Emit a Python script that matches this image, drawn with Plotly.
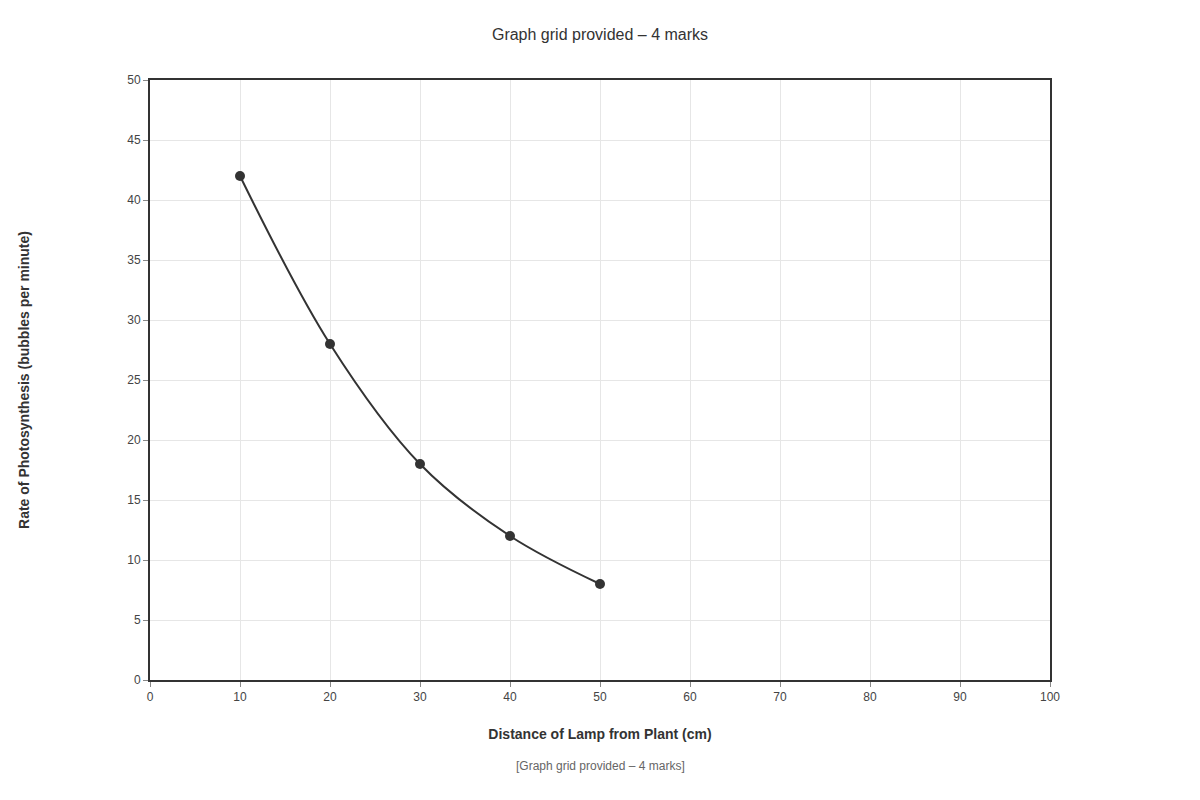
import plotly.graph_objects as go

# lamp distance (cm) vs photosynthesis rate (bubbles per minute)
distance = [10, 20, 30, 40, 50]
rate = [42, 28, 18, 12, 8]

x_ticks = list(range(0, 101, 10))
y_ticks = list(range(0, 51, 5))

fig = go.Figure(go.Scatter(
    x=distance, y=rate,
    mode="lines+markers",
    line=dict(color="#333333", width=2, shape="spline"),
    marker=dict(color="#333333", size=10),
    showlegend=False))

axis_style = dict(
    showline=True, linecolor="#333333", linewidth=2, mirror=True,
    showgrid=True, gridcolor="#e6e6e6", gridwidth=1,
    ticks="outside", ticklen=5, tickcolor="#888888",
    tickfont=dict(size=12, color="#444444"),
    zeroline=False)

# page has an 8px body margin, so shift the figure back by that much
fig.update_layout(
    width=1200, height=800,
    paper_bgcolor="white", plot_bgcolor="white",
    font=dict(family="Liberation Sans, Arial, sans-serif", color="#333333"),
    margin=dict(l=142, r=158, t=72, b=128),
    title=dict(text="Graph grid provided – 4 marks", x=592 / 1200, xanchor="center",
               y=0.9675, yanchor="middle", font=dict(size=16, color="#333333")),
    xaxis=dict(axis_style, range=[0, 100], tickvals=x_ticks,
               title=dict(text="<b>Distance of Lamp from Plant (cm)</b>",
                          font=dict(size=14, color="#333333"), standoff=26)),
    yaxis=dict(axis_style, range=[0, 50], tickvals=y_ticks,
               title=dict(text="<b>Rate of Photosynthesis (bubbles per minute)</b>",
                          font=dict(size=14, color="#333333"), standoff=94)),
    annotations=[dict(text="[Graph grid provided – 4 marks]", xref="paper", yref="paper",
                      x=0.5, y=-0.143, xanchor="center", yanchor="middle", showarrow=False,
                      font=dict(size=12, color="#666666"))])

fig.write_html("out.html")
